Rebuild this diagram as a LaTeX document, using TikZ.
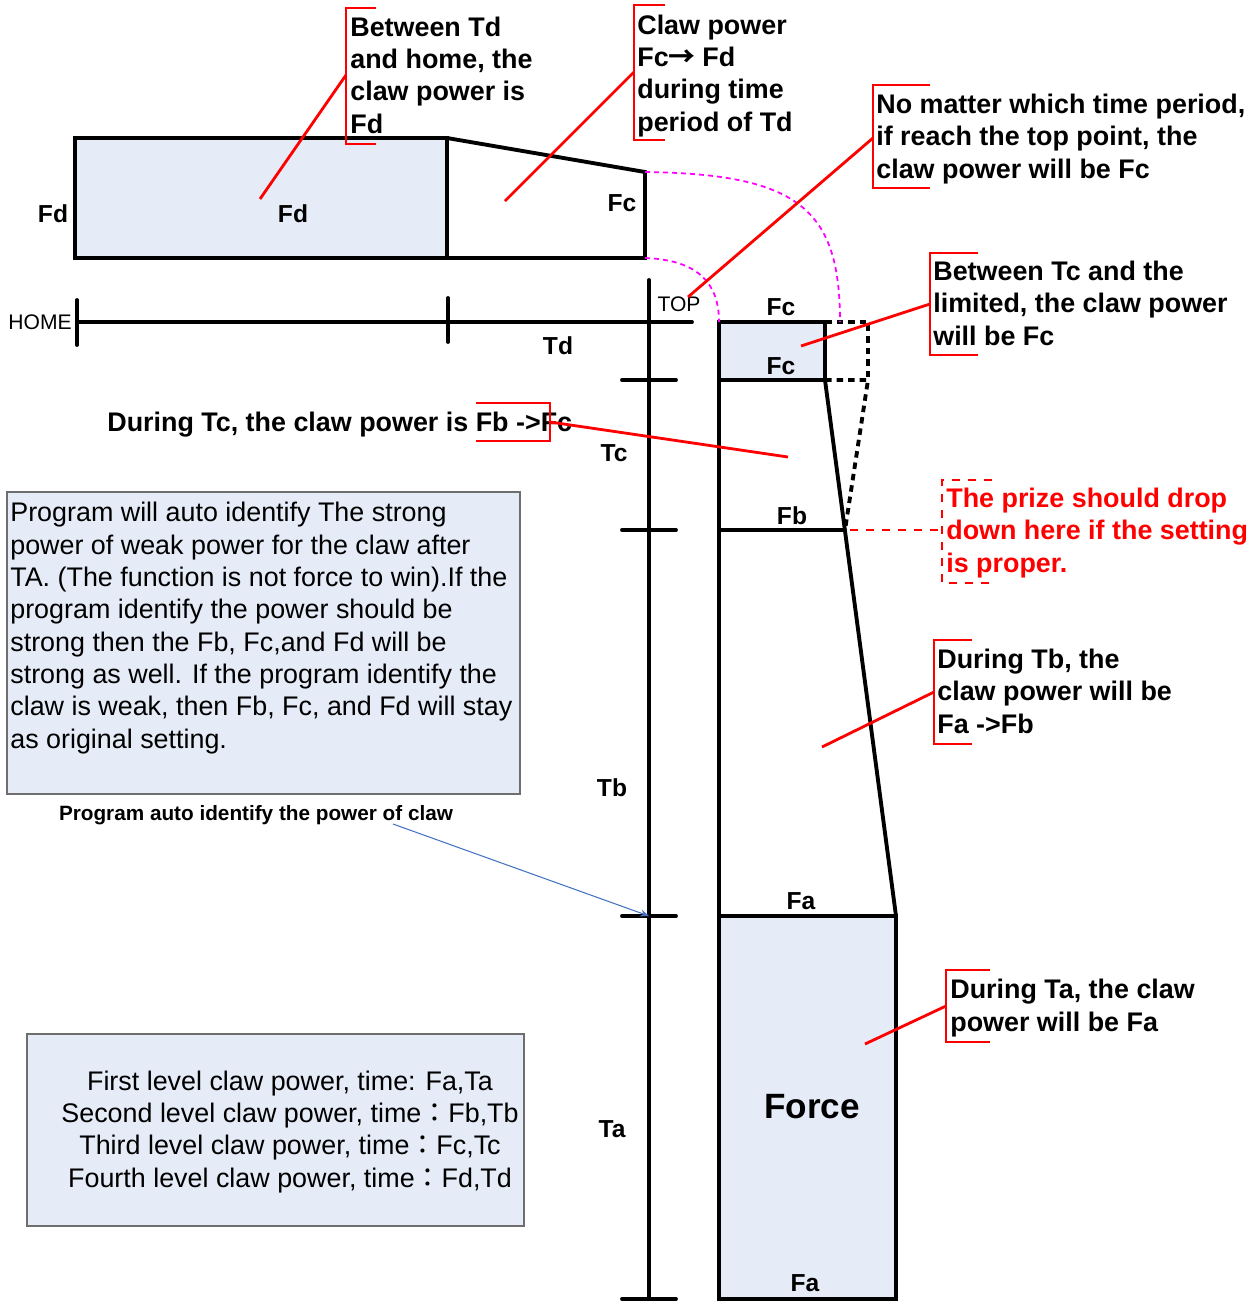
\documentclass[tikz,border=0pt]{standalone}
\usepackage{fontspec}
\setmainfont{Liberation Sans}
\newfontfamily\cjk{Noto Sans CJK TC}
\usetikzlibrary{arrows.meta}
\definecolor{paleblue}{HTML}{E6ECF7}
\definecolor{boxgray}{HTML}{6E6E6E}
\definecolor{pointblue}{HTML}{4472C4}
\definecolor{guidepink}{RGB}{255,0,255}
\begin{document}
\begin{tikzpicture}[x=0.02cm,y=-0.02cm]
% Styles
\tikzstyle{heavy}=[line width=2.2pt,line cap=round]
\tikzstyle{zone}=[line width=2.2pt,fill=paleblue]
\tikzstyle{dotline}=[line width=2.2pt,dash pattern=on 0.13cm off 0.1cm]
\tikzstyle{pointer}=[red,line width=1.6pt]
\tikzstyle{bracket}=[red,line width=1.6pt]
\tikzstyle{redash}=[red,line width=1.4pt,dash pattern=on 0.16cm off 0.16cm]
\tikzstyle{guide}=[guidepink,line width=1pt,dash pattern=on 0.1cm off 0.08cm]
\tikzstyle{panel}=[draw=boxgray,fill=paleblue,line width=0.8pt]
\tikzstyle{tag}=[font=\fontsize{14}{17}\selectfont\bfseries,inner sep=0pt]
\tikzstyle{small}=[font=\fontsize{12}{14}\selectfont,inner sep=0pt]
% (base anchor = baseline of the last line)
\tikzstyle{note}=[font=\fontsize{15.3}{18.4}\selectfont\bfseries,align=left,anchor=base west,inner sep=0pt]
\tikzstyle{plain}=[font=\fontsize{15.3}{18.4}\selectfont,align=left,anchor=base west,inner sep=0pt]
% Levels
\def\LevelTop{322}
\def\LevelC{380}
\def\LevelB{530}
\def\LevelA{916}
\def\LevelEnd{1299}
\useasboundingbox (0,0) rectangle (1258,1302);
% Top block (Td)
\draw[zone] (75,138) rectangle (447,258);
\draw[heavy,line cap=butt] (447,138) -- (645,172) -- (645,258) -- (447,258);
% Axes
\draw[heavy] (77,\LevelTop) -- (692,\LevelTop);
\draw[heavy] (77,300) -- (77,345);
\draw[heavy] (448,298) -- (448,342);
\draw[heavy] (649,280) -- (649,\LevelEnd);
\foreach \y in {\LevelC,\LevelB,\LevelA,\LevelEnd}
  \draw[heavy] (622,\y) -- (676,\y);
% Column
\draw[zone] (719,\LevelTop) rectangle (825,\LevelC);
\draw[heavy] (719,\LevelC) -- (719,\LevelA);
\draw[heavy] (825,\LevelC) -- (896,\LevelA);
\draw[heavy] (719,\LevelB) -- (845,\LevelB);
\draw[zone] (719,\LevelA) rectangle (896,\LevelEnd);
\draw[dotline] (825,\LevelTop) -- (868,\LevelTop) -- (868,\LevelC);
\draw[dotline] (825,\LevelC) -- (868,\LevelC) -- (845,\LevelB);
% Labels
\node[tag] (FdOut) at (53,214) {Fd};
\node[tag] (FdIn) at (293,214) {Fd};
\node[tag] (FcTd) at (622,203) {Fc};
\node[small] (home) at (40,322) {HOME};
\node[small] (top) at (679,304) {TOP};
\node[tag] (Td) at (558,346) {Td};
\node[tag] (Tc) at (614,453) {Tc};
\node[tag] (Tb) at (612,788) {Tb};
\node[tag] (Ta) at (612,1129) {Ta};
\node[tag] (FcTop) at (781,307) {Fc};
\node[tag] (FcIn) at (781,366) {Fc};
\node[tag] (Fb) at (792,516) {Fb};
\node[tag] (FaTop) at (801,901) {Fa};
\node[tag,font=\fontsize{20}{24}\selectfont\bfseries] (force) at (812,1107) {Force};
\node[tag] (FaEnd) at (805,1283) {Fa};
% Guides
\coordinate (gA) at (645,172);
\coordinate (gB) at (840,\LevelTop);
\coordinate (gC) at (645,258);
\coordinate (gD) at (719,\LevelTop);
\draw[guide] (gA) .. controls (800,174) and (840,210) .. (gB);
\draw[guide] (gC) .. controls (700,260) and (719,285) .. (gD);
% Notes
\node[note] (noteHome) at (350,133) {Between Td\\and home, the\\claw power is\\Fd};
\draw[bracket] (376,8) -- (346,8) -- (346,144) -- (376,144);
\coordinate (pHome) at (260,199); \coordinate (bHome) at (346,75);
\draw[pointer] (pHome) -- (bHome);
\node[note] (noteTd) at (637,131) {Claw power\\Fc{\cjk\bfseries →}\hspace{0.25em}Fd\\during time\\period of Td};
\draw[bracket] (665,5) -- (634,5) -- (634,140) -- (665,140);
\coordinate (pTd) at (505,201); \coordinate (bTd) at (634,72);
\draw[pointer] (pTd) -- (bTd);
\node[note] (noteTop) at (876,178) {No matter which time period,\\if reach the top point, the\\claw power will be Fc};
\draw[bracket] (930,85) -- (873,85) -- (873,188) -- (930,188);
\coordinate (pTop) at (688,297); \coordinate (bTop) at (873,138);
\draw[pointer] (pTop) -- (bTop);
\node[note] (noteLim) at (933,345) {Between Tc and the\\limited, the claw power\\will be Fc};
\draw[bracket] (978,253) -- (930,253) -- (930,355) -- (978,355);
\coordinate (pLim) at (801,346); \coordinate (bLim) at (930,304);
\draw[pointer] (pLim) -- (bLim);
\node[note] (noteTc) at (107,431) {During Tc, the claw power is Fb ->Fc};
\draw[bracket] (476,403) -- (550,403) -- (550,441) -- (476,441);
\coordinate (bTc) at (550,422); \coordinate (pTc) at (788,457);
\draw[pointer] (bTc) -- (pTc);
\node[note] (noteTb) at (937,733) {During Tb, the\\claw power will be\\Fa ->Fb};
\draw[bracket] (972,640) -- (934,640) -- (934,744) -- (972,744);
\coordinate (pTb) at (822,747); \coordinate (bTb) at (934,692);
\draw[pointer] (pTb) -- (bTb);
\node[note] (noteTa) at (950,1031) {During Ta, the claw\\power will be Fa};
\draw[bracket] (990,970) -- (946,970) -- (946,1042) -- (990,1042);
\coordinate (pTa) at (865,1044); \coordinate (bTa) at (946,1006);
\draw[pointer] (pTa) -- (bTa);
% Drop point
\node[note,text=red] (drop) at (946,572) {The prize should drop\\down here if the setting\\is proper.};
\draw[redash] (992,480) -- (942,480) -- (942,583) -- (990,583);
\coordinate (dA) at (850,\LevelB); \coordinate (dB) at (940,\LevelB);
\draw[redash] (dA) -- (dB);
% Panels
\draw[panel] (7,492) rectangle (520,794);
\node[plain] (auto) at (10,748) {Program will auto identify The strong\\power of weak power for the claw after\\TA. (The function is not force to win).If the\\program identify the power should be\\strong then the Fb, Fc,and Fd will be\\strong as well. If the program identify the\\claw is weak, then Fb, Fc, and Fd will stay\\as original setting.};
\node[small,font=\fontsize{11.8}{14}\selectfont\bfseries] (autoTag) at (256,815) {Program auto identify the power of claw};
\coordinate (aA) at (393,824); \coordinate (aB) at (649,\LevelA);
\draw[pointblue,line width=0.6pt,-{Stealth[length=5pt,width=4pt]}] (aA) -- (aB);
\draw[panel] (27,1034) rectangle (524,1226);
\node[plain,align=center,anchor=base] (levels) at (290,1187) {First level claw power, time: Fa,Ta\\Second level claw power, time{\cjk ：}Fb,Tb\\Third level claw power, time{\cjk ：}Fc,Tc\\Fourth level claw power, time{\cjk ：}Fd,Td};
\end{tikzpicture}
\end{document}
